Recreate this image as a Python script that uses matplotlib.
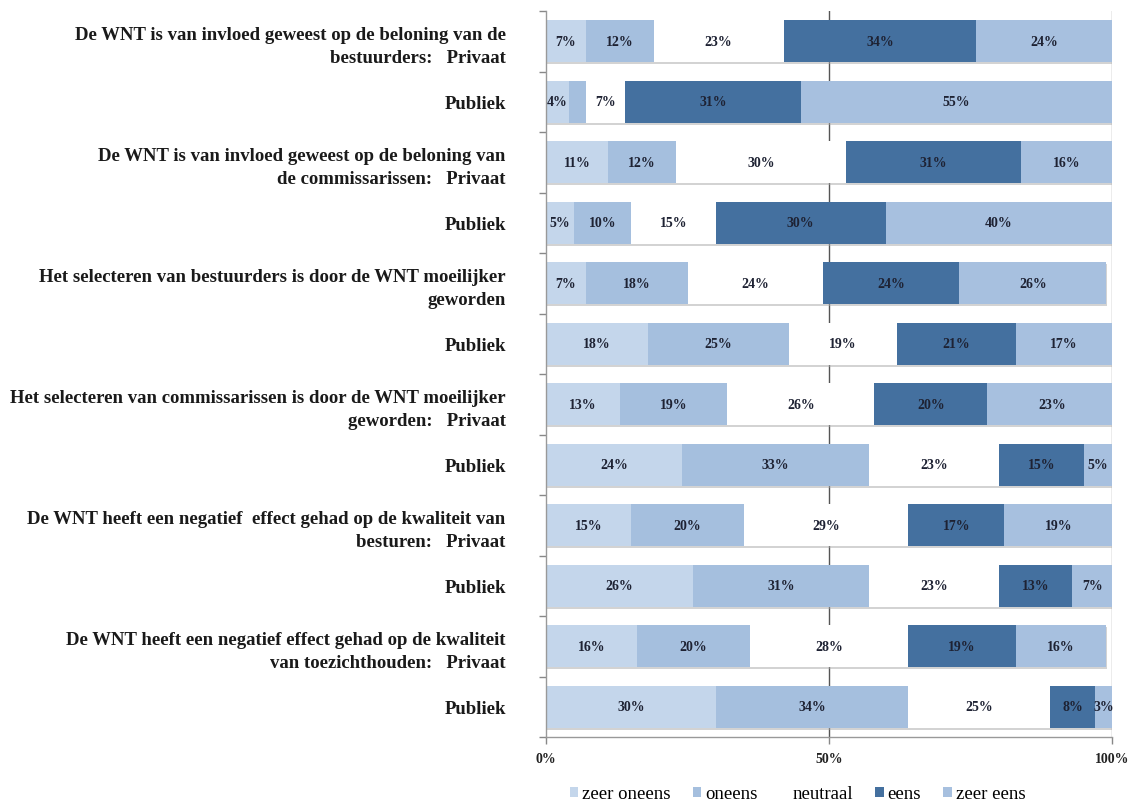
import matplotlib
matplotlib.use("Agg")
import matplotlib.pyplot as plt
import matplotlib.patheffects as pe
import numpy as np

# Survey statements (top to bottom)
statements = [
    "De WNT is van invloed geweest op de beloning van de\nbestuurders:   Privaat",
    "Publiek",
    "De WNT is van invloed geweest op de beloning van\nde commissarissen:   Privaat",
    "Publiek",
    "Het selecteren van bestuurders is door de WNT moeilijker\ngeworden",
    "Publiek",
    "Het selecteren van commissarissen is door de WNT moeilijker\ngeworden:   Privaat",
    "Publiek",
    "De WNT heeft een negatief  effect gehad op de kwaliteit van\nbesturen:   Privaat",
    "Publiek",
    "De WNT heeft een negatief effect gehad op de kwaliteit\nvan toezichthouden:   Privaat",
    "Publiek",
]

categories = ["zeer oneens", "oneens", "neutraal", "eens", "zeer eens"]

zeer_oneens = [7, 4, 11, 5, 7, 18, 13, 24, 15, 26, 16, 30]
oneens      = [12, 3, 12, 10, 18, 25, 19, 33, 20, 31, 20, 34]
neutraal    = [23, 7, 30, 15, 24, 19, 26, 23, 29, 23, 28, 25]
eens        = [34, 31, 31, 30, 24, 21, 20, 15, 17, 13, 19, 8]
zeer_eens   = [24, 55, 16, 40, 26, 17, 23, 5, 19, 7, 16, 3]

# segments whose value label is left out (row index, series index)
unlabeled = {(1, 1)}

x_ticks = [0, 50, 100]
x_ticklabels = ["0%", "50%", "100%"]

colors = ["#c4d6eb", "#a5bfde", "#ffffff", "#44709f", "#a7c0df"]

serif = ["Liberation Serif", "DejaVu Serif"]
plt.rcParams["font.family"] = serif

fig = plt.figure(figsize=(11.36, 8.03), dpi=100)
ax = fig.add_axes([546 / 1136, 1 - 738 / 803, (1112 - 546) / 1136, (738 - 12) / 803])

series = [zeer_oneens, oneens, neutraal, eens, zeer_eens]
n = len(statements)
y = np.arange(n)
left = np.zeros(n)

shadow = [pe.SimplePatchShadow(offset=(0.6, -1.4), shadow_rgbFace="#a8a8a8", alpha=0.5), pe.Normal()]

for si, (vals, col, name) in enumerate(zip(series, colors, categories)):
    vals = np.array(vals, dtype=float)
    bars = ax.barh(y, vals, left=left, height=0.7, color=col, edgecolor="none",
                   label=name, zorder=2)
    for b in bars:
        b.set_path_effects(shadow)
    for ri, (l, v) in enumerate(zip(left, vals)):
        if (ri, si) in unlabeled:
            continue
        ax.text(l + v / 2, ri, f"{int(v)}%", ha="center", va="center",
                fontsize=10, fontweight="bold", color="#1e2233", zorder=4)
    left += vals

ax.set_xlim(0, 100)
ax.set_ylim(n - 0.5, -0.5)

# vertical reference lines behind the bars
ax.axvline(50, color="#555555", lw=1.0, zorder=1)
ax.axvline(100, color="#a0a0a0", lw=1.0, zorder=1)

ax.set_xticks(x_ticks)
ax.set_xticklabels(x_ticklabels, fontsize=10, fontweight="bold", color="#222222")
ax.tick_params(axis="x", length=5, width=1, color="#888888", direction="out", pad=6)

ax.set_yticks(y)
ax.set_yticklabels(statements, fontsize=13.5, fontweight="bold", color="#1a1a1a",
                   ha="right", linespacing=1.45)
ax.tick_params(axis="y", which="major", length=0, pad=29)
ax.set_yticks(np.arange(-0.5, n, 1.0), minor=True)
ax.tick_params(axis="y", which="minor", length=5, width=1, color="#888888", direction="out")

for side in ["top", "right"]:
    ax.spines[side].set_visible(False)
for side in ["left", "bottom"]:
    ax.spines[side].set_color("#999999")
    ax.spines[side].set_linewidth(1.0)

handles, labels = ax.get_legend_handles_labels()
leg = fig.legend(handles, labels, loc="center", bbox_to_anchor=(0.702, 0.010), ncol=5,
                 frameon=False, fontsize=13.5, handlelength=0.45, handleheight=0.45,
                 handletextpad=0.2, columnspacing=1.2)
for h in leg.legend_handles:
    h.set_path_effects([])

fig.savefig("out.png", dpi=100)
